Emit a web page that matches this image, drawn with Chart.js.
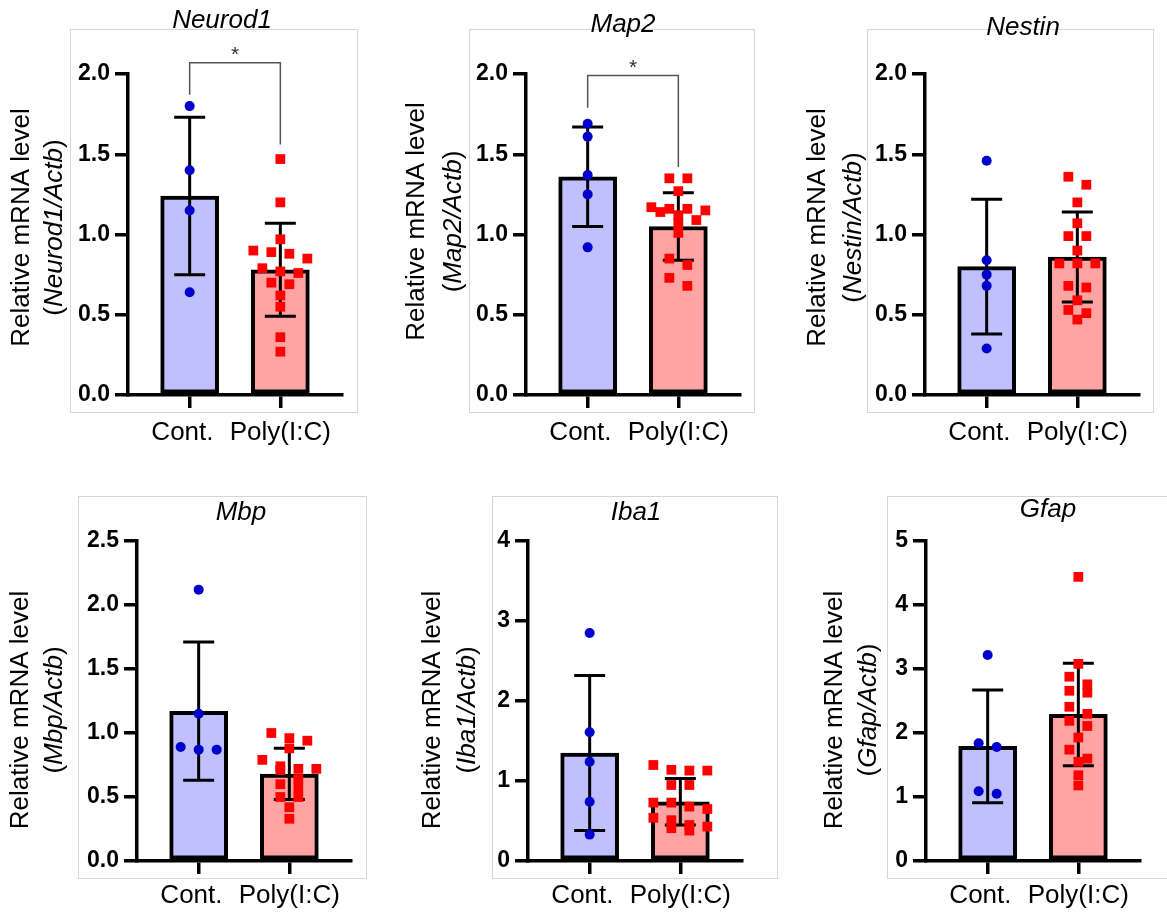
<!DOCTYPE html>
<html>
<head>
<meta charset="utf-8">
<script src="https://cdn.jsdelivr.net/npm/chart.js@4.4.1/dist/chart.umd.min.js"></script>
<style>
  html, body { margin: 0; padding: 0; background: #fff; overflow: hidden; }
  body { width: 1167px; height: 915px; position: relative; }
  .frame { position: absolute; border: 1px solid #d6d6d6; box-sizing: border-box; }
  canvas { position: absolute; }
</style>
</head>
<body>
<script>
const genes = ['Neurod1', 'Map2', 'Nestin', 'Mbp', 'Iba1', 'Gfap'];
const groups = ['Cont.', 'Poly(I:C)'];

// values (relative mRNA level)
const neurod1Cont = [1.80, 1.40, 1.15, 0.64];
const neurod1Poly = [1.47, 1.20, 0.97, 0.90, 0.89, 0.88, 0.85, 0.79, 0.77, 0.76, 0.70, 0.69, 0.62, 0.55, 0.36, 0.27];
const neurod1Mean = [1.24, 0.78];
const neurod1Sd = [0.49, 0.29];
const neurod1Ticks = ['0.0', '0.5', '1.0', '1.5', '2.0'];
const neurod1Sig = [1.87, 2.07, 1.56]; // left leg end, bracket top, right leg end

const map2Cont = [1.69, 1.61, 1.37, 1.25, 0.92];
const map2Poly = [1.35, 1.35, 1.27, 1.17, 1.16, 1.16, 1.15, 1.14, 1.12, 1.09, 1.07, 1.01, 0.85, 0.81, 0.73, 0.68];
const map2Mean = [1.36, 1.05];
const map2Sd = [0.31, 0.21];
const map2Ticks = ['0.0', '0.5', '1.0', '1.5', '2.0'];
const map2Sig = [1.79, 1.99, 1.42];

const nestinCont = [1.46, 0.84, 0.75, 0.68, 0.29];
const nestinPoly = [1.36, 1.31, 1.20, 1.07, 0.99, 0.99, 0.90, 0.82, 0.82, 0.82, 0.68, 0.67, 0.59, 0.53, 0.51, 0.47];
const nestinMean = [0.80, 0.86];
const nestinSd = [0.42, 0.28];
const nestinTicks = ['0.0', '0.5', '1.0', '1.5', '2.0'];

const mbpCont = [2.12, 1.15, 0.89, 0.87, 0.87];
const mbpPoly = [1.00, 0.96, 0.94, 0.88, 0.79, 0.74, 0.72, 0.72, 0.71, 0.64, 0.60, 0.57, 0.50, 0.50, 0.42, 0.33];
const mbpMean = [1.17, 0.68];
const mbpSd = [0.54, 0.20];
const mbpTicks = ['0.0', '0.5', '1.0', '1.5', '2.0', '2.5'];

const iba1Cont = [2.85, 1.61, 1.24, 0.74, 0.33];
const iba1Poly = [1.20, 1.14, 1.13, 1.13, 0.95, 0.95, 0.73, 0.73, 0.68, 0.65, 0.54, 0.51, 0.45, 0.43, 0.41, 0.38];
const iba1Mean = [1.35, 0.74];
const iba1Sd = [0.97, 0.29];
const iba1Ticks = ['0', '1', '2', '3', '4'];

const gfapCont = [3.22, 1.84, 1.78, 1.09, 1.05];
const gfapPoly = [4.44, 3.08, 2.88, 2.76, 2.66, 2.63, 2.41, 2.30, 2.19, 2.11, 1.93, 1.74, 1.60, 1.55, 1.34, 1.18];
const gfapMean = [1.79, 2.29];
const gfapSd = [0.88, 0.80];
const gfapTicks = ['0', '1', '2', '3', '4', '5'];

const panels = [
  { cont: neurod1Cont, poly: neurod1Poly, mean: neurod1Mean, sd: neurod1Sd, ticks: neurod1Ticks, sig: neurod1Sig },
  { cont: map2Cont, poly: map2Poly, mean: map2Mean, sd: map2Sd, ticks: map2Ticks, sig: map2Sig },
  { cont: nestinCont, poly: nestinPoly, mean: nestinMean, sd: nestinSd, ticks: nestinTicks },
  { cont: mbpCont, poly: mbpPoly, mean: mbpMean, sd: mbpSd, ticks: mbpTicks },
  { cont: iba1Cont, poly: iba1Poly, mean: iba1Mean, sd: iba1Sd, ticks: iba1Ticks },
  { cont: gfapCont, poly: gfapPoly, mean: gfapMean, sd: gfapSd, ticks: gfapTicks }
];

// page layout of each panel
const layout = [
  { left: 128, top: 0, h: 450, padTop: 74, xh: 55, xPad: 9, frame: [70, 29, 288, 384], tdx: -13, tdy: -46, yt: [-106, -73], ytDy: -7 },
  { left: 526, top: 0, h: 450, padTop: 74, xh: 55, xPad: 9, frame: [469, 29, 286, 384], tdx: -10, tdy: -42, yt: [-109, -72], ytDy: -13 },
  { left: 925, top: 0, h: 450, padTop: 74, xh: 55, xPad: 9, frame: [867, 29, 287, 384], tdx: -9, tdy: -39, yt: [-107, -71], ytDy: -7 },
  { left: 137, top: 460, h: 455, padTop: 81, xh: 54, xPad: 6, frame: [78, 496, 289, 383], tdx: -3, tdy: -21, yt: [-116, -82], ytDy: 9 },
  { left: 528, top: 460, h: 455, padTop: 81, xh: 54, xPad: 6, frame: [492, 496, 286, 383], tdx: 1, tdy: -21, yt: [-95, -60], ytDy: 9 },
  { left: 926, top: 460, h: 455, padTop: 81, xh: 54, xPad: 6, frame: [887, 496, 290, 383], tdx: 15, tdy: -24, yt: [-91, -57], ytDy: 9 }
];

const FONT = "'Liberation Sans', Arial, sans-serif";
const YW = 140;
const CW = 364;

// spread points that would overlap into centred rows (scatter dot plot)
const swarm = {
  id: 'swarm',
  afterDatasetsUpdate(chart) {
    chart.data.datasets.forEach((ds, di) => {
      if (ds.type !== 'scatter') return;
      const pts = chart.getDatasetMeta(di).data;
      const order = pts.map((p, i) => i).sort((a, b) => pts[a].y - pts[b].y);
      let row = [];
      const place = () => {
        row.forEach((k, j) => { pts[k].x += (j - (row.length - 1) / 2) * 18; });
      };
      order.forEach(k => {
        if (row.length && (pts[k].y - pts[row[0]].y >= 9.5 || row.length === 4)) { place(); row = []; }
        row.push(k);
      });
      place();
    });
  }
};

function errorBars(p) {
  return {
    id: 'errorBars',
    afterDatasetDraw(chart, args) {
      if (args.index !== 0) return;
      const { ctx, scales: { x, y } } = chart;
      ctx.save();
      ctx.strokeStyle = '#000';
      ctx.lineWidth = 3;
      p.mean.forEach((m, i) => {
        const cx = x.getPixelForValue(i);
        const hi = y.getPixelForValue(m + p.sd[i]);
        const lo = y.getPixelForValue(m - p.sd[i]);
        ctx.beginPath();
        ctx.moveTo(cx, hi); ctx.lineTo(cx, lo);
        ctx.moveTo(cx - 15.5, hi); ctx.lineTo(cx + 15.5, hi);
        ctx.moveTo(cx - 15.5, lo); ctx.lineTo(cx + 15.5, lo);
        ctx.stroke();
      });
      ctx.restore();
    }
  };
}

function panelText(gene, p, L) {
  return {
    id: 'panelText',
    afterDraw(chart) {
      const { ctx, chartArea: a, scales: { x, y } } = chart;
      ctx.save();
      ctx.fillStyle = '#000';
      ctx.font = `italic 26px ${FONT}`;
      ctx.textAlign = 'center';
      ctx.textBaseline = 'alphabetic';
      ctx.fillText(gene, (a.left + a.right) / 2 + L.tdx, a.top + L.tdy);

      // y axis title, two lines
      const cy = (a.top + a.bottom) / 2 + L.ytDy;
      ctx.save();
      ctx.translate(a.left + L.yt[0], cy);
      ctx.rotate(-Math.PI / 2);
      ctx.textBaseline = 'middle';
      ctx.font = `26px ${FONT}`;
      ctx.fillText('Relative mRNA level', 0, 0);
      ctx.restore();

      ctx.save();
      ctx.translate(a.left + L.yt[1], cy);
      ctx.rotate(-Math.PI / 2);
      ctx.textBaseline = 'middle';
      ctx.textAlign = 'left';
      const parts = [['(', ''], [gene + '/Actb', 'italic '], [')', '']];
      let total = 0;
      parts.forEach(([t, s]) => { ctx.font = `${s}26px ${FONT}`; total += ctx.measureText(t).width; });
      let tx = -total / 2;
      parts.forEach(([t, s]) => {
        ctx.font = `${s}26px ${FONT}`;
        ctx.fillText(t, tx, 0);
        tx += ctx.measureText(t).width;
      });
      ctx.restore();

      // significance bracket
      if (p.sig) {
        const xl = x.getPixelForValue(0), xr = x.getPixelForValue(1);
        const yl = y.getPixelForValue(p.sig[0]);
        const yt = y.getPixelForValue(p.sig[1]);
        const yr = y.getPixelForValue(p.sig[2]);
        ctx.strokeStyle = '#555';
        ctx.lineWidth = 1.5;
        ctx.beginPath();
        ctx.moveTo(xl, yl); ctx.lineTo(xl, yt); ctx.lineTo(xr, yt); ctx.lineTo(xr, yr);
        ctx.stroke();
        ctx.fillStyle = '#333';
        ctx.font = `21px ${FONT}`;
        ctx.textAlign = 'center';
        ctx.textBaseline = 'alphabetic';
        ctx.fillText('*', (xl + xr) / 2, yt - 2);
      }
      ctx.restore();
    }
  };
}

panels.forEach((p, n) => {
  const L = layout[n];
  const frame = document.createElement('div');
  frame.className = 'frame';
  frame.style.left = L.frame[0] + 'px';
  frame.style.top = L.frame[1] + 'px';
  frame.style.width = L.frame[2] + 'px';
  frame.style.height = L.frame[3] + 'px';
  document.body.appendChild(frame);

  const canvas = document.createElement('canvas');
  canvas.width = CW;
  canvas.height = L.h;
  canvas.style.width = CW + 'px';
  canvas.style.height = L.h + 'px';
  canvas.style.left = (L.left - YW) + 'px';
  canvas.style.top = L.top + 'px';
  document.body.appendChild(canvas);

  const axisGrid = { offset: false, drawOnChartArea: false, drawTicks: true, tickLength: 13, lineWidth: 3.5, tickWidth: 3.5, tickColor: '#000', color: '#000' };
  const axisBorder = { display: true, width: 3.5, color: '#000' };

  new Chart(canvas, {
    type: 'bar',
    data: {
      datasets: [
        {
          type: 'bar',
          data: p.mean.map((m, i) => ({ x: i, y: m })),
          backgroundColor: ['#c0c0ff', '#ffa3a3'],
          borderColor: '#000',
          borderWidth: 4,
          borderSkipped: false,
          barThickness: 58,
          order: 2
        },
        {
          type: 'scatter',
          data: p.cont.map(v => ({ x: 0, y: v })),
          pointStyle: 'circle',
          pointRadius: 5,
          backgroundColor: '#0000cc',
          borderWidth: 0,
          order: 1
        },
        {
          type: 'scatter',
          data: p.poly.map(v => ({ x: 1, y: v })),
          pointStyle: 'rect',
          pointRadius: 6.9,
          backgroundColor: '#ff0000',
          borderWidth: 0,
          order: 1
        }
      ]
    },
    options: {
      responsive: false,
      animation: false,
      events: [],
      layout: { padding: { top: L.padTop, right: CW - YW - 214, bottom: 0, left: 0 } },
      plugins: { legend: { display: false }, tooltip: { enabled: false }, title: { display: false } },
      scales: {
        x: {
          type: 'linear',
          min: -0.68,
          max: 1.68,
          offset: false,
          afterBuildTicks: s => { s.ticks = groups.map((g, i) => ({ value: i })); },
          afterFit: s => { s.height = L.xh; },
          ticks: {
            callback: (v, i) => groups[i] + (i === 0 ? '  ' : ''),
            font: { family: FONT, size: 26 },
            color: '#000',
            padding: L.xPad,
            maxRotation: 0,
            autoSkip: false
          },
          grid: axisGrid,
          border: axisBorder
        },
        y: {
          min: 0,
          max: Number(p.ticks[p.ticks.length - 1]),
          afterBuildTicks: s => { s.ticks = p.ticks.map(t => ({ value: Number(t) })); },
          afterFit: s => { s.width = YW; },
          ticks: {
            callback: (v, i) => p.ticks[i],
            font: { family: FONT, size: 23, weight: 'bold' },
            color: '#000',
            padding: 5
          },
          grid: axisGrid,
          border: axisBorder
        }
      }
    },
    plugins: [swarm, errorBars(p), panelText(genes[n], p, L)]
  });
});
</script>
</body>
</html>
